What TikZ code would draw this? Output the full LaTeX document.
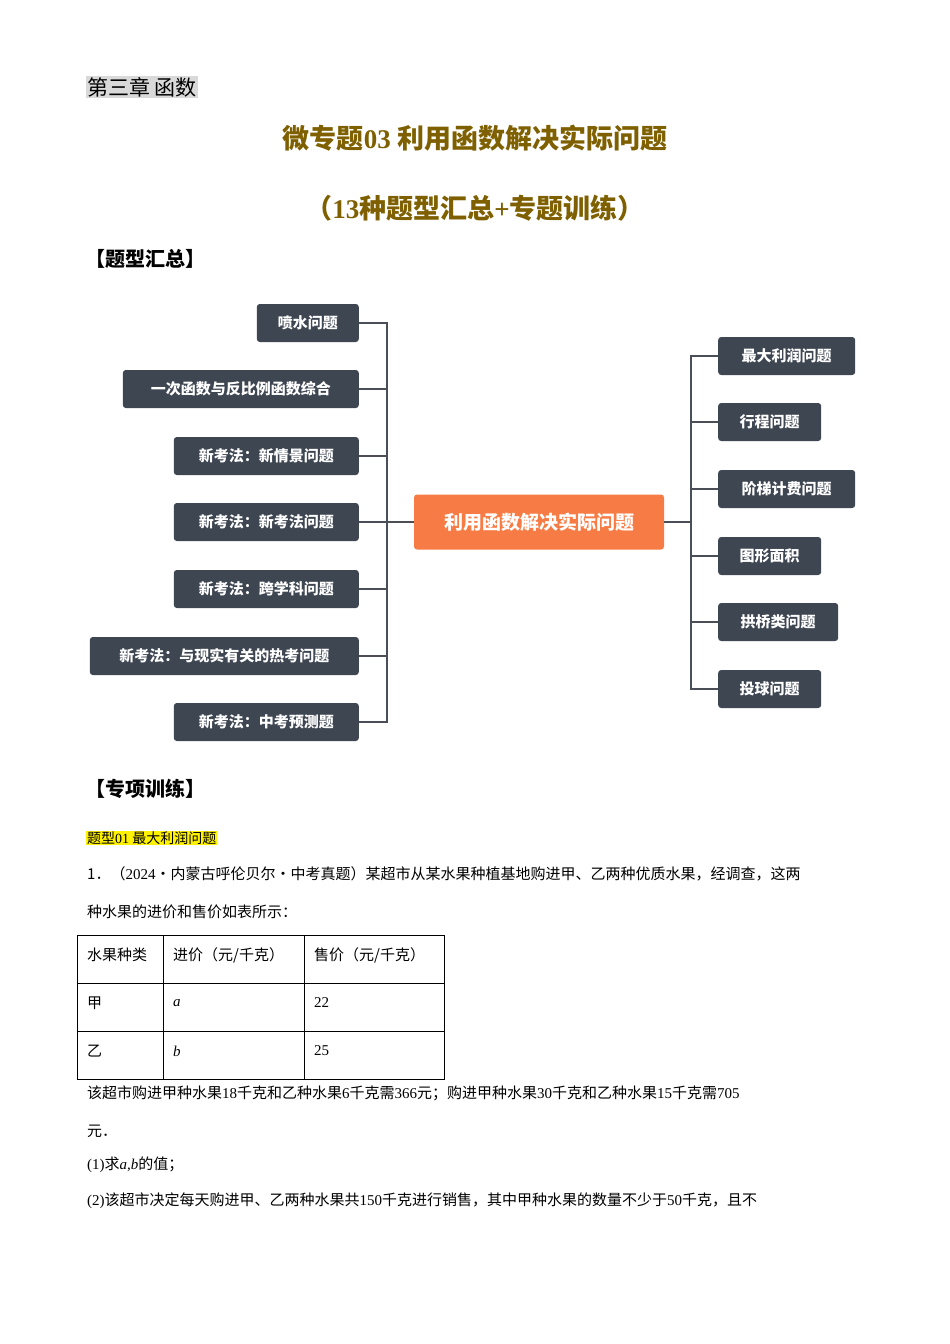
\documentclass[tikz,border=0pt]{standalone}
\usepackage{fontspec}
\setmainfont{Noto Sans CJK SC}
\newfontfamily\serifnum{Liberation Serif}
\definecolor{boxc}{HTML}{3E4652}
\definecolor{orangec}{HTML}{F77B44}
\definecolor{titlec}{HTML}{7F6000}
\definecolor{linec}{HTML}{4A4F57}
\tikzset{
 lbox/.style={draw=none,fill=boxc,rounded corners=3pt,text=white,font=\fontsize{15}{15}\selectfont\bfseries,minimum height=38pt,inner sep=0pt,anchor=east},
 rbox/.style={lbox,anchor=west},
 conn/.style={draw=linec,line width=1.3pt},
 body/.style={anchor=west,inner sep=0pt,font=\fontsize{15}{15}\selectfont},
}
\begin{document}
\begin{tikzpicture}[x=1pt,y=-1pt]
\useasboundingbox (0,0) rectangle (950,1344);
\node[anchor=west,fill=black!15,inner sep=1pt,font=\fontsize{21}{21}\selectfont] (ch) at (86,87) {第三章 函数};
\node[font=\fontsize{27}{27}\selectfont\bfseries,text=titlec] (t1) at (475,138) {微专题{\serifnum 03} 利用函数解决实际问题};
\node[font=\fontsize{27}{27}\selectfont\bfseries,text=titlec] (t2) at (475,208) {（{\serifnum 13}种题型汇总{\serifnum +}专题训练）};
\node[anchor=west,font=\fontsize{20}{20}\selectfont\bfseries] (h1) at (82,259) {【题型汇总】};
% left boxes
\node[lbox,minimum width=102pt] (l1) at (359,323) {喷水问题};
\node[lbox,minimum width=236pt] (l2) at (359,389) {一次函数与反比例函数综合};
\node[lbox,minimum width=185pt] (l3) at (359,456) {新考法：新情景问题};
\node[lbox,minimum width=185pt] (l4) at (359,522) {新考法：新考法问题};
\node[lbox,minimum width=185pt] (l5) at (359,589) {新考法：跨学科问题};
\node[lbox,minimum width=269pt] (l6) at (359,656) {新考法：与现实有关的热考问题};
\node[lbox,minimum width=185pt] (l7) at (359,722) {新考法：中考预测题};
\node[draw=none,fill=orangec,rounded corners=3pt,text=white,font=\fontsize{19}{19}\selectfont\bfseries,minimum width=250pt,minimum height=55pt,inner sep=0pt] (c) at (539,522) {利用函数解决实际问题};
\node[rbox,minimum width=137pt] (r1) at (718,356) {最大利润问题};
\node[rbox,minimum width=103pt] (r2) at (718,422) {行程问题};
\node[rbox,minimum width=137pt] (r3) at (718,489) {阶梯计费问题};
\node[rbox,minimum width=103pt] (r4) at (718,556) {图形面积};
\node[rbox,minimum width=120pt] (r5) at (718,622) {拱桥类问题};
\node[rbox,minimum width=103pt] (r6) at (718,689) {投球问题};
\coordinate (lj) at (387,522);
\coordinate (rj) at (691,522);
\foreach \n in {l1,l2,l3,l4,l5,l6,l7} \draw[conn] (\n.east) -| (lj);
\draw[conn] (lj) -- (c.west);
\foreach \n in {r1,r2,r3,r4,r5,r6} \draw[conn] (\n.west) -| (rj);
\draw[conn] (c.east) -- (rj);
\node[anchor=west,font=\fontsize{20}{20}\selectfont\bfseries] (h2) at (82,789) {【专项训练】};
\node[anchor=west,fill=yellow,inner sep=1pt,font=\fontsize{14}{14}\selectfont] (ty) at (86,838) {题型{\serifnum 01} 最大利润问题};
\node[body] (p1) at (87,874) {1．（{\serifnum 2024}·内蒙古呼伦贝尔·中考真题）某超市从某水果种植基地购进甲、乙两种优质水果，经调查，这两};
\node[body] (p2) at (87,912) {种水果的进价和售价如表所示：};
\draw[line width=0.8pt] (77,935) rectangle (444,1079);
\foreach \yy in {983,1031} \draw[line width=0.8pt] (77,\yy) -- (444,\yy);
\foreach \xx in {163,304} \draw[line width=0.8pt] (\xx,935) -- (\xx,1079);
\node[body] (a1) at (87,955) {水果种类};
\node[body] (a2) at (173,955) {进价（元/千克）};
\node[body] (a3) at (314,955) {售价（元/千克）};
\node[body] (b1) at (87,1003) {甲};
\node[body] (b2) at (173,1003) {\serifnum\itshape a};
\node[body] (b3) at (314,1003) {\serifnum 22};
\node[body] (c1) at (87,1051) {乙};
\node[body] (c2) at (173,1051) {\serifnum\itshape b};
\node[body] (c3) at (314,1051) {\serifnum 25};
\node[body] (p3) at (87,1093) {该超市购进甲种水果{\serifnum 18}千克和乙种水果{\serifnum 6}千克需{\serifnum 366}元；购进甲种水果{\serifnum 30}千克和乙种水果{\serifnum 15}千克需{\serifnum 705}};
\node[body] (p4) at (87,1131) {元．};
\node[body] (p5) at (87,1165) {{\serifnum (1)}求{\serifnum\itshape a}{\serifnum ,}{\serifnum\itshape b}的值；};
\node[body] (p6) at (87,1201) {{\serifnum (2)}该超市决定每天购进甲、乙两种水果共{\serifnum 150}千克进行销售，其中甲种水果的数量不少于{\serifnum 50}千克，且不};
\end{tikzpicture}
\end{document}
